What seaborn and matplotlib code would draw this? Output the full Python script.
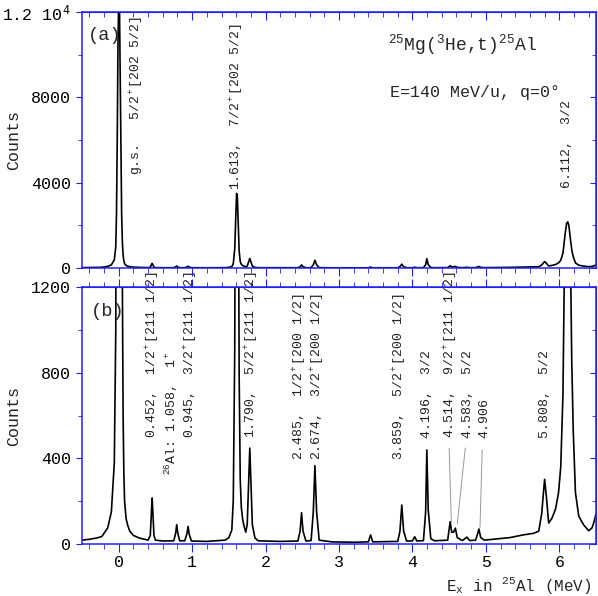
import numpy as np
import pandas as pd
import matplotlib
matplotlib.use("Agg")
import matplotlib.pyplot as plt
from matplotlib.ticker import MultipleLocator
import seaborn as sns

# spectrum (excitation energy in MeV, counts per bin)
energy = [-0.50, -0.40, -0.30, -0.23, -0.15, -0.10, -0.06, -0.04, -0.03, -0.02,
          -0.01, 0.00, 0.01, 0.02, 0.03, 0.04, 0.05, 0.06, 0.07, 0.08,
          0.10, 0.12, 0.15, 0.20, 0.28, 0.35, 0.40, 0.43, 0.445, 0.455,
          0.465, 0.48, 0.50, 0.60, 0.75, 0.775, 0.79, 0.805, 0.83, 0.90,
          0.93, 0.945, 0.96, 0.99, 1.20, 1.45, 1.50, 1.54, 1.56, 1.58,
          1.595, 1.605, 1.615, 1.625, 1.64, 1.655, 1.67, 1.69, 1.71, 1.73,
          1.75, 1.77, 1.785, 1.80, 1.82, 1.855, 1.90, 2.20, 2.44, 2.47,
          2.49, 2.51, 2.55, 2.62, 2.65, 2.672, 2.695, 2.73, 2.90, 3.20,
          3.40, 3.43, 3.46, 3.80, 3.83, 3.855, 3.88, 3.92, 4.00, 4.03,
          4.06, 4.15, 4.18, 4.196, 4.215, 4.25, 4.30, 4.48, 4.50, 4.514,
          4.535, 4.56, 4.585, 4.61, 4.68, 4.74, 4.78, 4.86, 4.89, 4.905,
          4.93, 4.98, 5.10, 5.33, 5.50, 5.65, 5.72, 5.76, 5.80, 5.825,
          5.855, 5.90, 5.95, 5.99, 6.02, 6.05, 6.08, 6.10, 6.115, 6.13,
          6.15, 6.17, 6.19, 6.22, 6.265, 6.33, 6.40, 6.445, 6.47, 6.50]
counts = [18, 22, 28, 35, 75, 150, 380, 1000, 2600, 6000,
          10500, 12600, 12400, 9000, 5500, 2500, 1200, 600, 330, 200,
          120, 90, 60, 40, 28, 22, 18, 40, 150, 215,
          150, 40, 18, 14, 15, 50, 90, 50, 15, 15,
          50, 82, 45, 14, 12, 18, 30, 65, 200, 900,
          2500, 3500, 3400, 2300, 800, 300, 170, 110, 80, 55,
          90, 300, 448, 300, 90, 28, 15, 12, 14, 60,
          146, 60, 14, 16, 150, 366, 150, 18, 10, 8,
          10, 42, 10, 12, 60, 182, 60, 14, 14, 34,
          14, 16, 150, 439, 160, 25, 15, 18, 70, 104,
          55, 55, 74, 30, 16, 32, 16, 18, 50, 70,
          30, 18, 22, 30, 42, 50, 60, 140, 302, 220,
          98, 120, 165, 240, 360, 700, 1600, 2100, 2160, 2000,
          1400, 850, 530, 240, 130, 90, 62, 75, 100, 140]

# peak labels, panel (a)
labels_a = ["g.s.   5/2$^+$[202 5/2]", "1.613,  7/2$^+$[202 5/2]", "6.112,  3/2"]
labels_a_x = [0.245, 1.61, 6.11]
labels_a_y = [4360, 3660, 3750]

# peak labels, panel (b)
labels_b = ["0.452,  1/2$^+$[211 1/2]", "$^{26}$Al: 1.058,  1$^+$",
            "0.945,  3/2$^+$[211 1/2]", "1.790,  5/2$^+$[211 1/2]",
            "2.485,  1/2$^+$[200 1/2]", "2.674,  3/2$^+$[200 1/2]",
            "3.859,  5/2$^+$[200 1/2]", "4.196,  3/2",
            "4.514,  9/2$^+$[211 1/2]", "4.583,  5/2", "4.906", "5.808,  5/2"]
labels_b_x = [0.46, 0.72, 0.99, 1.81, 2.47, 2.71, 3.83, 4.20, 4.52, 4.76, 4.98, 5.81]
labels_b_y = [495, 322, 495, 495, 392, 392, 392, 495, 495, 495, 495, 495]

# leader lines from labels to small peaks in (b)
leader_x0 = [4.50, 4.72, 4.95]
leader_x1 = [4.53, 4.61, 4.92]
leader_y0 = [448, 448, 439]
leader_y1 = [103, 93, 75]

df = pd.DataFrame({"E": energy, "counts": counts})

sns.set_style("ticks")
plt.rcParams["font.family"] = ["Liberation Mono", "DejaVu Sans"]
plt.rcParams["mathtext.fontset"] = "custom"
plt.rcParams["mathtext.rm"] = "Liberation Mono"
plt.rcParams["mathtext.it"] = "Liberation Mono"
plt.rcParams["mathtext.default"] = "regular"

blue = "#2020ff"

fig = plt.figure(figsize=(5.98, 5.96), dpi=100)
ax_a = fig.add_axes([82 / 598, 1 - 268 / 596, 514 / 598, 256 / 596])
ax_b = fig.add_axes([82 / 598, 1 - 544 / 596, 514 / 598, 257 / 596])
ax_a.set_zorder(2)
ax_b.set_zorder(1)
ax_a.patch.set_facecolor("white")


def style_axes(ax, top_dir, ymax, ymajor, yminor):
    ax.set_xlim(-0.5, 6.5)
    ax.set_ylim(0, ymax)
    ax.xaxis.set_major_locator(MultipleLocator(1))
    ax.xaxis.set_minor_locator(MultipleLocator(0.2))
    ax.yaxis.set_major_locator(MultipleLocator(ymajor))
    ax.yaxis.set_minor_locator(MultipleLocator(yminor))
    for s in ax.spines.values():
        s.set_color(blue)
        s.set_linewidth(1.1)
    ax.tick_params(axis="x", which="both", direction="out", top=False,
                   color=blue, labelcolor="black", labelsize=12, pad=2)
    ax.tick_params(axis="x", which="major", length=6)
    ax.tick_params(axis="x", which="minor", length=3.5)
    ax.tick_params(axis="y", which="both", direction="out", right=False,
                   color=blue, labelcolor="black", labelsize=12)
    ax.tick_params(axis="y", which="major", length=4.5)
    ax.tick_params(axis="y", which="minor", length=3)
    top = ax.secondary_xaxis("top")
    top.xaxis.set_major_locator(MultipleLocator(1))
    top.xaxis.set_minor_locator(MultipleLocator(0.2))
    top.tick_params(which="both", direction=top_dir, labeltop=False, color=blue)
    top.tick_params(which="major", length=6)
    top.tick_params(which="minor", length=3.5)
    top.spines["top"].set_color(blue)
    right = ax.secondary_yaxis("right")
    right.yaxis.set_major_locator(MultipleLocator(ymajor))
    right.yaxis.set_minor_locator(MultipleLocator(yminor))
    right.tick_params(which="both", direction="in", labelright=False, color=blue)
    right.tick_params(which="major", length=4.5)
    right.tick_params(which="minor", length=3)
    right.spines["right"].set_color(blue)
    ax.set_ylabel("Counts", fontsize=12)
    ax.yaxis.set_label_coords(-0.118, 0.5)


for ax in (ax_a, ax_b):
    sns.lineplot(data=df, x="E", y="counts", ax=ax, color="black",
                 linewidth=1.2, estimator=None)

style_axes(ax_a, "in", 12000, 4000, 2000)
style_axes(ax_b, "out", 1200, 400, 200)

ax_a.set_yticks([0, 4000, 8000, 12000])
ax_a.set_yticklabels(["0", "4000", "8000", "1.2 10$^{4}$"])
ax_a.tick_params(axis="x", labelbottom=False)
ax_a.set_xlabel("")

ax_b.set_xlabel("E$_x$ in $^{25}$Al (MeV)", fontsize=11.5)
ax_b.xaxis.set_label_coords(0.992, -0.12)
ax_b.xaxis.label.set_ha("right")
ax_b.xaxis.label.set_va("top")

ax_a.text(0.012, 0.91, "(a)", transform=ax_a.transAxes, fontsize=13.5, va="center")
ax_b.text(0.018, 0.903, "(b)", transform=ax_b.transAxes, fontsize=13.5, va="center")
ax_a.text(0.595, 0.871, "$^{25}$Mg($^{3}$He,t)$^{25}$Al", transform=ax_a.transAxes,
          fontsize=13, va="center")
ax_a.text(0.599, 0.684, "E=140 MeV/u, q=0°", transform=ax_a.transAxes,
          fontsize=12, va="center")

for t, x, y in zip(labels_a, labels_a_x, labels_a_y):
    ax_a.text(x, y, t, rotation=90, ha="center", va="bottom", fontsize=9.5,
              color="#222222")
for t, x, y in zip(labels_b, labels_b_x, labels_b_y):
    ax_b.text(x, y, t, rotation=90, ha="center", va="bottom", fontsize=9.5,
              color="#222222", clip_on=False)
for x0, x1, y0, y1 in zip(leader_x0, leader_x1, leader_y0, leader_y1):
    ax_b.plot([x0, x1], [y0, y1], color="#999999", linewidth=0.7)

fig.savefig("out.png", dpi=100)
